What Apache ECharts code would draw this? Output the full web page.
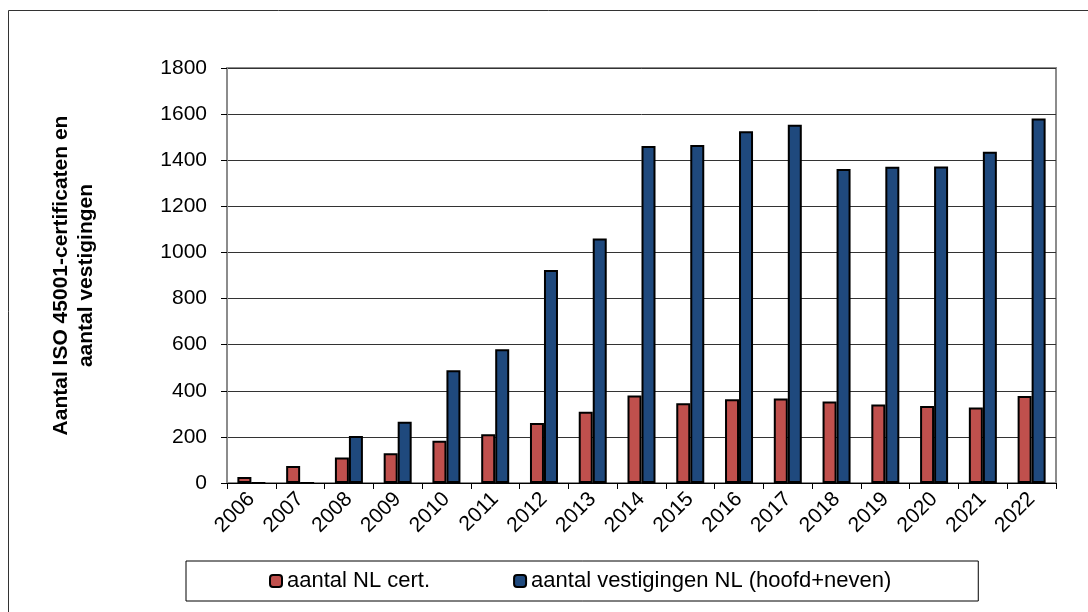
<!DOCTYPE html>
<html>
<head>
<meta charset="utf-8">
<script src="https://cdn.jsdelivr.net/npm/echarts@6/dist/echarts.min.js"></script>
<style>
  html, body { margin: 0; padding: 0; background: #fff; }
  #main { width: 1088px; height: 612px; }
</style>
</head>
<body>
<div id="main"></div>
<script>
const years = ['2006', '2007', '2008', '2009', '2010', '2011', '2012', '2013', '2014',
  '2015', '2016', '2017', '2018', '2019', '2020', '2021', '2022']
// aantal NL cert.
const certificaten = [26, 74, 111, 129, 183, 211, 260, 309, 379, 346, 363, 367, 353, 341, 334, 327, 377]
// aantal vestigingen NL (hoofd+neven)
const vestigingen = [0, 0, 204, 266, 489, 580, 924, 1061, 1462, 1466, 1526, 1554, 1362, 1372, 1373, 1437, 1581]
const yTicks = { min: 0, max: 1800, interval: 200 }

const font = 'Arial, "Liberation Sans", sans-serif'
const chart = echarts.init(document.getElementById('main'))

chart.setOption({
  animation: false,
  textStyle: { fontFamily: font },
  graphic: [
    {
      // rand om de hele grafiek
      type: 'rect',
      shape: { x: 8.5, y: 10.5, width: 1100, height: 620 },
      style: { fill: 'none', stroke: '#333', lineWidth: 1 }
    },
    {
      // plotgebied
      type: 'rect',
      shape: { x: 227, y: 68, width: 829, height: 415 },
      style: { fill: 'none', stroke: '#8c8c8c', lineWidth: 2 },
      z: 0
    }
  ],
  grid: { left: 227, right: 32, top: 68, bottom: 129 },
  legend: {
    left: 186,
    top: 561,
    padding: [9, 87, 9, 83],
    itemGap: 83,
    itemWidth: 12,
    itemHeight: 12,
    borderColor: '#000',
    borderWidth: 1,
    textStyle: { fontSize: 22, color: '#000', fontFamily: font },
    data: ['aantal NL cert.', 'aantal vestigingen NL (hoofd+neven)']
  },
  xAxis: {
    type: 'category',
    data: years,
    axisLine: { lineStyle: { color: '#000', width: 1 } },
    axisTick: { show: true, length: 6, lineStyle: { color: '#000' } },
    axisLabel: { rotate: 45, fontSize: 21, color: '#000', margin: 13, fontFamily: font }
  },
  yAxis: {
    type: 'value',
    ...yTicks,
    name: 'Aantal ISO 45001-certificaten en\naantal vestigingen',
    nameLocation: 'middle',
    nameRotate: 90,
    nameGap: 128,
    nameTextStyle: { fontSize: 21, fontWeight: 'bold', color: '#000', lineHeight: 25, fontFamily: font },
    axisLine: { show: true, lineStyle: { color: '#8c8c8c', width: 2 } },
    axisTick: { show: true, length: 6, lineStyle: { color: '#000' } },
    axisLabel: { fontSize: 21, color: '#000', margin: 20, fontFamily: font, formatter: (v) => String(v) },
    splitLine: { lineStyle: { color: '#333', width: 1 } }
  },
  series: [
    {
      name: 'aantal NL cert.',
      type: 'bar',
      data: certificaten,
      barWidth: 14,
      barGap: '0%',
      itemStyle: { color: '#C0504D', borderColor: '#000', borderWidth: 2 }
    },
    {
      name: 'aantal vestigingen NL (hoofd+neven)',
      type: 'bar',
      data: vestigingen,
      barWidth: 14,
      itemStyle: { color: '#1F497D', borderColor: '#000', borderWidth: 2 }
    }
  ]
})
</script>
</body>
</html>
